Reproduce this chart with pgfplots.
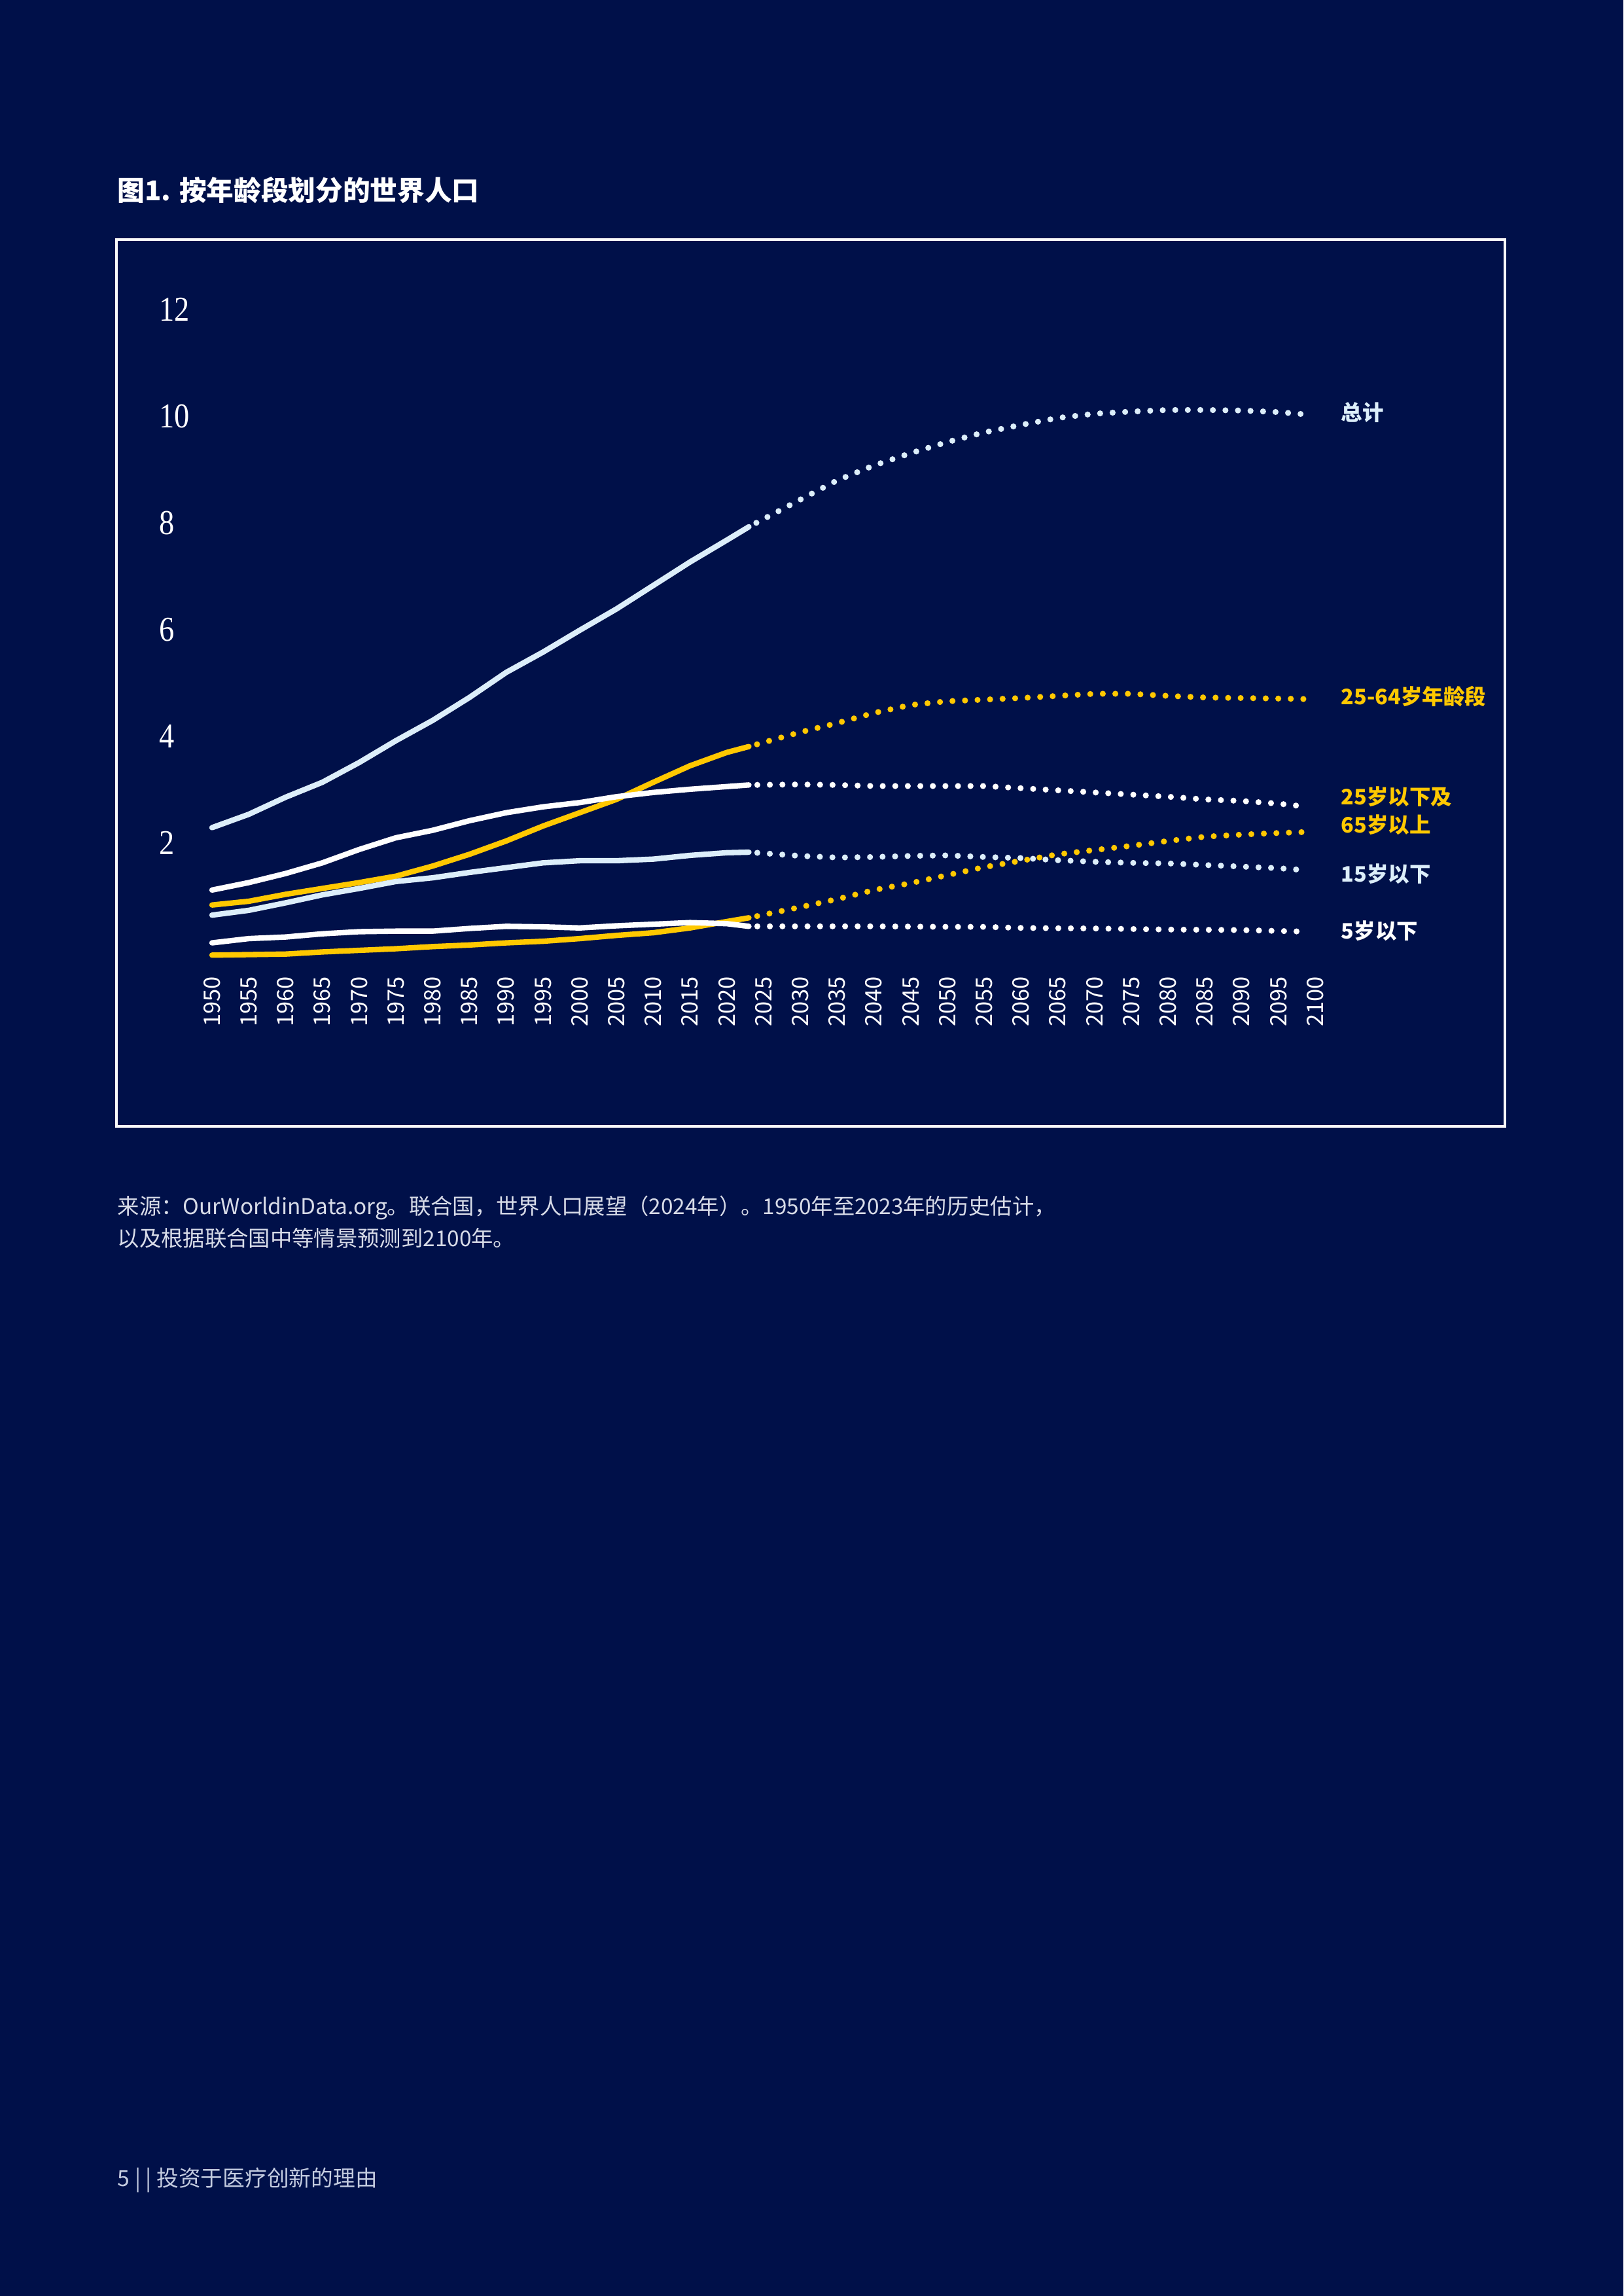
\documentclass[border=0pt]{standalone}
\usepackage{fontspec}
\setmainfont{Noto Sans CJK SC}
\newfontfamily\seriffont{Liberation Serif}
\IfFontExistsTF{FandolSong-Regular.otf}{\newfontfamily\notefont{FandolSong-Regular.otf}}{\newfontfamily\notefont{Noto Sans CJK SC}}
\usepackage{graphicx}
\usepackage{pgfplots}
\pgfplotsset{compat=1.18}
\definecolor{bg}{HTML}{001049}
\definecolor{lb}{HTML}{DCEEFA}
\definecolor{yel}{HTML}{FFC800}
\definecolor{fn}{HTML}{D8DCE8}
\definecolor{ft}{HTML}{C4CCE0}
\begin{document}
\begin{tikzpicture}
\fill[bg] (0,0) rectangle (595.44pt,-841.92pt);
\useasboundingbox (0,0) rectangle (595.44pt,-841.92pt);
\node[anchor=west, inner sep=0pt, text=white, font=\bfseries\fontsize{10}{12}\selectfont] at (42.96pt,-69.84pt) {图1. 按年龄段划分的世界人口};
\draw[white!95!gray, line width=0.85pt] (42.72pt,-87.84pt) rectangle (552pt,-413.04pt);
\begin{axis}[
  at={(77.76pt,-352.39pt)}, anchor=south west,
  scale only axis, width=404.64pt, height=234.72pt,
  xmin=1950, xmax=2100, ymin=0, ymax=12, clip=false,
  axis line style={draw=none}, tick style={draw=none},
  xtick={1950,1955,...,2100}, ytick={2,4,6,8,10,12},
  /pgf/number format/1000 sep={},
  /pgf/number format/assume math mode=true,
  xticklabel style={rotate=90, anchor=east, inner sep=0pt, text=white, font=\fontsize{8.3}{10}\selectfont},
  xticklabel shift=5.5pt,
  yticklabel style={anchor=base west, inner sep=0pt, xshift=-19.6pt, text=white, font=\seriffont\fontsize{12.8}{14}\selectfont},
  yticklabel={\scalebox{0.87}[1]{\pgfmathprintnumber{\tick}}},
  hist/.style={line width=2.0pt, line cap=round, line join=round},
  proj/.style={line width=2.2pt, line cap=round, dash pattern=on 0pt off 4.6pt, dash phase=1.5pt},
]
% historical solid lines (yellow first, white on top)
\addplot[yel, hist] coordinates {(1950,1.05)(1955,1.12)(1960,1.25)(1965,1.36)(1970,1.47)(1975,1.59)(1980,1.78)(1985,2.00)(1990,2.25)(1995,2.53)(2000,2.78)(2005,3.03)(2010,3.35)(2015,3.66)(2020,3.91)(2023,4.02)};
\addplot[yel, hist] coordinates {(1950,0.11)(1955,0.12)(1960,0.13)(1965,0.17)(1970,0.20)(1975,0.23)(1980,0.27)(1985,0.30)(1990,0.34)(1995,0.37)(2000,0.42)(2005,0.48)(2010,0.53)(2015,0.62)(2020,0.74)(2023,0.81)};
\addplot[lb, hist] coordinates {(1950,2.50)(1955,2.75)(1960,3.07)(1965,3.35)(1970,3.72)(1975,4.13)(1980,4.51)(1985,4.94)(1990,5.41)(1995,5.79)(2000,6.20)(2005,6.60)(2010,7.04)(2015,7.48)(2020,7.89)(2023,8.14)};
\addplot[white, hist] coordinates {(1950,1.33)(1955,1.47)(1960,1.64)(1965,1.84)(1970,2.09)(1975,2.31)(1980,2.45)(1985,2.63)(1990,2.78)(1995,2.89)(2000,2.97)(2005,3.08)(2010,3.16)(2015,3.22)(2020,3.27)(2023,3.30)};
\addplot[lb, hist] coordinates {(1950,0.86)(1955,0.95)(1960,1.09)(1965,1.24)(1970,1.36)(1975,1.49)(1980,1.56)(1985,1.66)(1990,1.75)(1995,1.84)(2000,1.88)(2005,1.88)(2010,1.91)(2015,1.98)(2020,2.03)(2023,2.04)};
\addplot[white, hist] coordinates {(1950,0.34)(1955,0.42)(1960,0.45)(1965,0.51)(1970,0.55)(1975,0.56)(1980,0.56)(1985,0.61)(1990,0.65)(1995,0.64)(2000,0.62)(2005,0.66)(2010,0.69)(2015,0.72)(2020,0.70)(2023,0.65)};
% projections dotted
\addplot[yel, proj] coordinates {(2023,4.02)(2030,4.29)(2035,4.46)(2040,4.65)(2045,4.80)(2050,4.87)(2055,4.90)(2060,4.93)(2065,4.97)(2070,5.01)(2075,5.01)(2080,4.97)(2085,4.94)(2090,4.93)(2095,4.92)(2099,4.91)};
\addplot[yel, proj] coordinates {(2023,0.81)(2030,1.01)(2035,1.16)(2040,1.33)(2045,1.46)(2050,1.61)(2055,1.76)(2060,1.88)(2065,2.00)(2070,2.08)(2075,2.16)(2080,2.25)(2085,2.33)(2090,2.37)(2095,2.40)(2099,2.42)};
\addplot[lb, proj] coordinates {(2023,8.14)(2030,8.65)(2035,9.01)(2040,9.29)(2045,9.52)(2050,9.73)(2055,9.91)(2060,10.05)(2065,10.18)(2070,10.26)(2075,10.30)(2080,10.33)(2085,10.33)(2090,10.32)(2095,10.29)(2098.5,10.25)};
\addplot[white, proj] coordinates {(2023,3.30)(2030,3.31)(2035,3.30)(2040,3.28)(2045,3.28)(2050,3.28)(2055,3.28)(2060,3.24)(2065,3.20)(2070,3.16)(2075,3.12)(2080,3.08)(2085,3.03)(2090,3.00)(2095,2.95)(2099,2.89)};
\addplot[lb, proj] coordinates {(2023,2.04)(2030,1.97)(2035,1.94)(2040,1.95)(2045,1.97)(2050,1.98)(2055,1.95)(2060,1.93)(2065,1.89)(2070,1.86)(2075,1.84)(2080,1.83)(2085,1.80)(2090,1.77)(2095,1.74)(2099,1.70)};
\addplot[white, proj] coordinates {(2023,0.65)(2030,0.65)(2040,0.65)(2050,0.64)(2055,0.64)(2060,0.62)(2070,0.61)(2080,0.59)(2090,0.58)(2099,0.55)};
\end{axis}
\begin{scope}[every node/.style={anchor=west, inner sep=0pt, font=\bfseries\fontsize{7.8}{9}\selectfont}]
\node[text=lb] at (491.76pt,-151.2pt) {总计};
\node[text=yel] at (491.76pt,-255.36pt) {25-64岁年龄段};
\node[text=yel] at (491.76pt,-292.08pt) {25岁以下及};
\node[text=yel] at (491.76pt,-302.4pt) {65岁以上};
\node[text=lb] at (491.76pt,-320.4pt) {15岁以下};
\node[text=white] at (491.76pt,-341.28pt) {5岁以下};
\end{scope}
\begin{scope}[every node/.style={anchor=west, inner sep=0pt, text=fn, font=\notefont\fontsize{8}{10}\selectfont}]
\node at (42.96pt,-442.8pt) {来源：OurWorldinData.org。联合国，世界人口展望（2024年）。1950年至2023年的历史估计，};
\node at (42.96pt,-454.08pt) {以及根据联合国中等情景预测到2100年。};
\end{scope}
\node[anchor=west, inner sep=0pt, text=ft, font=\fontsize{8.1}{10}\selectfont] at (42.96pt,-799.44pt) {5 | | 投资于医疗创新的理由};
\end{tikzpicture}
\end{document}
